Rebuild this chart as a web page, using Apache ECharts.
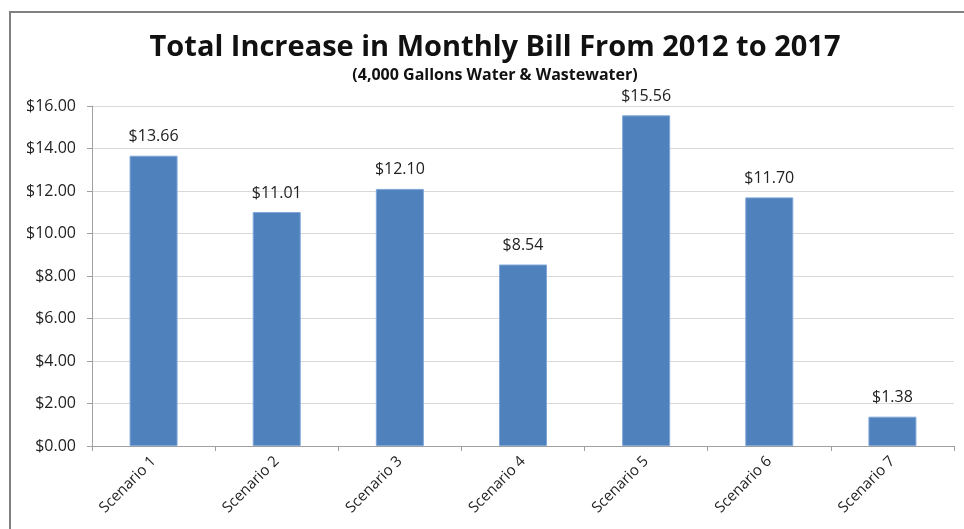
<!DOCTYPE html>
<html>
<head>
<meta charset="utf-8">
<script src="https://cdn.jsdelivr.net/npm/echarts@6/dist/echarts.min.js"></script>
<style>
html,body{margin:0;padding:0;background:#fff;}
#chart{width:964px;height:529px;}
</style>
</head>
<body>
<div id="chart"></div>
<script>
// Monthly bill increase per scenario, 2012 → 2017
const scenarios = ['Scenario 1','Scenario 2','Scenario 3','Scenario 4','Scenario 5','Scenario 6','Scenario 7'];
const increases = [13.66, 11.01, 12.10, 8.54, 15.56, 11.70, 1.38];
const yTicks = { min: 0, max: 16, interval: 2 };

const FONT = '"Open Sans", Lato, sans-serif';
const chart = echarts.init(document.getElementById('chart'));

chart.setOption({
  backgroundColor: '#fff',
  animation: false,
  title: {
    text: 'Total Increase in Monthly Bill From 2012 to 2017',
    subtext: '(4,000 Gallons Water & Wastewater)',
    left: 490, top: 28, textAlign: 'center',
    itemGap: 5,
    textStyle: { fontFamily: FONT, fontWeight: 'bold', fontSize: 29, color: '#111' },
    subtextStyle: { fontFamily: FONT, fontWeight: 'bold', fontSize: 16, color: '#111' }
  },
  graphic: [{
    type: 'rect',
    shape: { x: 10, y: 12, width: 980, height: 540 },
    style: { fill: 'none', stroke: '#808080', lineWidth: 2 },
    silent: true
  }],
  grid: { left: 92, right: 10, top: 106, bottom: 83 },
  xAxis: {
    type: 'category',
    data: scenarios,
    axisLine: { lineStyle: { color: '#a0a0a0' } },
    axisTick: { show: true, length: 5, lineStyle: { color: '#a0a0a0' } },
    axisLabel: { rotate: 45, fontFamily: FONT, fontSize: 15, color: '#222', margin: 13 }
  },
  yAxis: {
    type: 'value',
    min: yTicks.min, max: yTicks.max, interval: yTicks.interval,
    axisLine: { show: true, lineStyle: { color: '#a0a0a0' } },
    axisTick: { show: true, length: 5, lineStyle: { color: '#a0a0a0' } },
    splitLine: { lineStyle: { color: '#d9d9d9' } },
    axisLabel: {
      fontFamily: FONT, fontSize: 16, color: '#222', margin: 16,
      formatter: v => '$' + v.toFixed(2)
    }
  },
  series: [{
    type: 'bar',
    data: increases,
    barWidth: 48,
    itemStyle: { color: '#4f81bd', borderColor: '#7fa6d6', borderWidth: 1 },
    label: {
      show: true, position: 'top', distance: 11,
      fontFamily: FONT, fontSize: 16, color: '#222',
      formatter: p => '$' + p.value.toFixed(2)
    }
  }]
});
</script>
</body>
</html>
